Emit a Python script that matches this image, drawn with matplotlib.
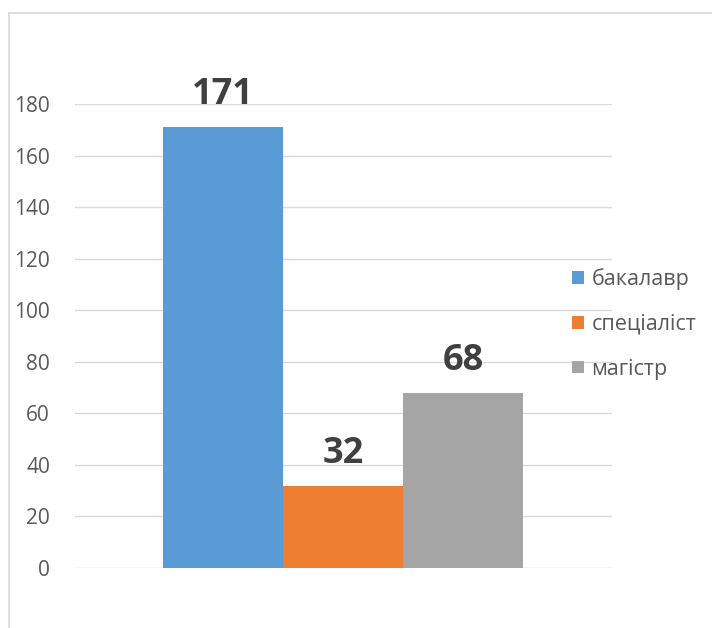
import matplotlib
matplotlib.use("Agg")
import matplotlib.pyplot as plt
from matplotlib.patches import Patch
from matplotlib.lines import Line2D

plt.rcParams['font.family'] = ['Open Sans', 'DejaVu Sans']

series = ["бакалавр", "спеціаліст", "магістр"]
values = [171, 32, 68]
colors = ["#5B9BD5", "#ED7D31", "#A5A5A5"]
yticks = [0, 20, 40, 60, 80, 100, 120, 140, 160, 180]

fig = plt.figure(figsize=(7.12, 6.28), dpi=100)
ax = fig.add_axes([75/712, 1-568/628, 537/712, 464/628])

positions = list(range(len(series)))
for p, v, c in zip(positions, values, colors):
    b = ax.bar(p, v, width=1.0, color=c, zorder=3)
    ax.bar_label(b, labels=[str(v)], padding=10, fontsize=26, fontweight='bold',
                 color='#404040')

ax.set_xlim(-1.233, 3.242)
ax.set_ylim(0, 180)
ax.set_yticks(yticks)
ax.set_xticks([])
ax.yaxis.grid(True, color='#D9D9D9', linewidth=1.0, zorder=0)
ax.set_axisbelow(True)
for s in ax.spines.values():
    s.set_visible(False)
ax.tick_params(axis='y', length=0, pad=18, labelsize=15, labelcolor='#595959')

handles = [Patch(facecolor=c, edgecolor='none') for c in colors]
ax.legend(handles, series, loc='center left', bbox_to_anchor=(572/712, 1-324/628),
          bbox_transform=fig.transFigure, frameon=False, fontsize=15.5,
          labelcolor='#595959', handlelength=0.55, handleheight=0.55,
          handletextpad=0.35, labelspacing=1.1, borderaxespad=0, borderpad=0)

# chart border (partially visible)
fig.add_artist(Line2D([9/712, 9/712], [-0.1, 1-13/628], transform=fig.transFigure,
                      color='#D9D9D9', linewidth=1.2))
fig.add_artist(Line2D([9/712, 1.1], [1-13/628, 1-13/628], transform=fig.transFigure,
                      color='#D9D9D9', linewidth=1.2))

fig.savefig("out.png", dpi=100)
